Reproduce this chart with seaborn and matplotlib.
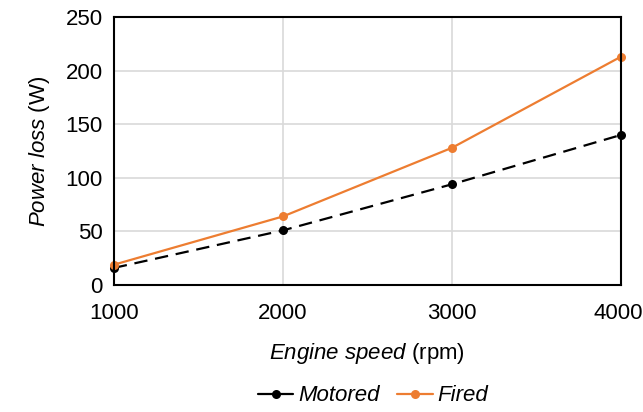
import pandas as pd
import matplotlib
matplotlib.use("Agg")
import matplotlib.pyplot as plt
import matplotlib.transforms as mtransforms
import seaborn as sns

# data
engine_speed = [1000, 2000, 3000, 4000]
motored_loss = [16, 51, 94, 140]
fired_loss = [19, 64, 128, 213]

x_ticks = [1000, 2000, 3000, 4000]
y_ticks = [0, 50, 100, 150, 200, 250]

sns.set_theme(style="whitegrid")
plt.rcParams["font.family"] = ["Liberation Sans", "DejaVu Sans"]
plt.rcParams["text.color"] = "black"
plt.rcParams["axes.labelcolor"] = "black"
plt.rcParams["mathtext.fontset"] = "custom"
plt.rcParams["mathtext.rm"] = "Liberation Sans"
plt.rcParams["mathtext.it"] = "Liberation Sans:italic"

df = pd.DataFrame({
    "speed": engine_speed * 2,
    "loss": motored_loss + fired_loss,
    "series": ["Motored"] * 4 + ["Fired"] * 4,
})

fig = plt.figure(figsize=(6.43, 4.12), dpi=100)
ax = fig.add_axes([0.177, 0.308, 0.789, 0.651])

sns.lineplot(
    data=df, x="speed", y="loss", hue="series", style="series",
    palette={"Motored": "black", "Fired": "#ED7D31"},
    dashes={"Motored": (6, 3.5), "Fired": ""},
    markers={"Motored": "o", "Fired": "o"},
    markersize=6.5, markeredgewidth=0, linewidth=1.6,
    legend=False, ax=ax, clip_on=False,
)

ax.set_xlim(1000, 4000)
ax.set_ylim(0, 250)
ax.set_xticks(x_ticks)
ax.set_yticks(y_ticks)
ax.tick_params(axis="both", labelsize=16, length=0, colors="black")
ax.tick_params(axis="x", pad=13)
ax.tick_params(axis="y", pad=8)
ax.grid(True, color="#D9D9D9", linewidth=1.2)
for sp in ax.spines.values():
    sp.set_color("black")
    sp.set_linewidth(1.5)

# keep the last x tick label inside the canvas
last = ax.get_xticklabels()[-1]
last.set_transform(last.get_transform() + mtransforms.ScaledTranslation(-0.03, 0, fig.dpi_scale_trans))

ax.set_xlabel(r"$\it{Engine\ speed}$ (rpm)", fontsize=16, color="black", labelpad=12)
ax.set_ylabel(r"$\it{Power\ loss}$ (W)", fontsize=16, color="black", labelpad=10)

handles = [
    plt.Line2D([], [], color="black", marker="o", markersize=6.5, markeredgewidth=0, linewidth=1.6),
    plt.Line2D([], [], color="#ED7D31", marker="o", markersize=6.5, markeredgewidth=0, linewidth=1.6),
]
leg = fig.legend(
    handles, ["Motored", "Fired"], loc="lower center", ncol=2, frameon=False,
    bbox_to_anchor=(0.58, -0.035), fontsize=16, handlelength=1.6,
    handletextpad=0.2, columnspacing=0.8,
)
for t in leg.get_texts():
    t.set_fontstyle("italic")
    t.set_color("black")

fig.savefig("out.png", dpi=100)
